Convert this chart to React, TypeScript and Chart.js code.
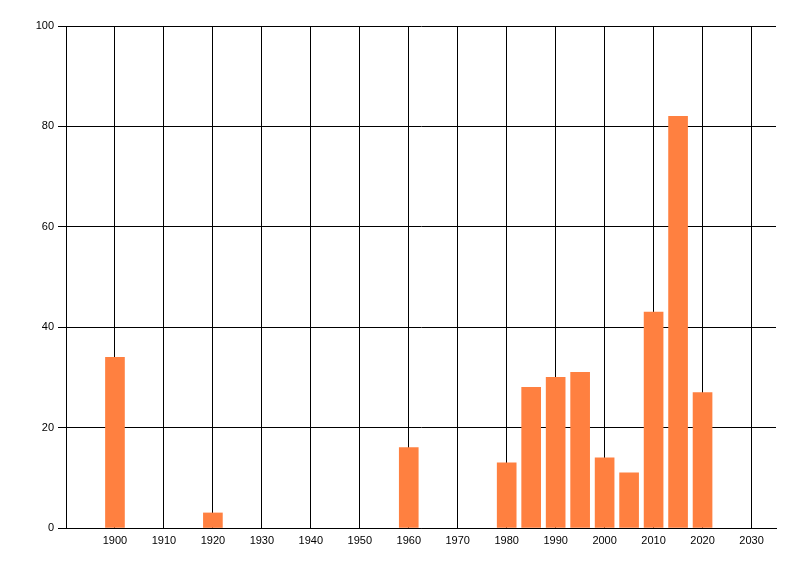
import React, { useEffect, useRef } from "react";
import { Chart, registerables } from "chart.js";

Chart.register(...registerables);

const years = [1900, 1920, 1960, 1980, 1985, 1990, 1995, 2000, 2005, 2010, 2015, 2020];
const values = [34, 3, 16, 13, 28, 30, 31, 14, 11, 43, 82, 27];
const xTickValues = [1900, 1910, 1920, 1930, 1940, 1950, 1960, 1970, 1980, 1990, 2000, 2010, 2020, 2030];
const yTickValues = [0, 20, 40, 60, 80, 100];

export default function App() {
  const ref = useRef<HTMLCanvasElement>(null);
  useEffect(() => {
    document.body.style.margin = "0";
    const ctx = ref.current!;
    const font = { family: "'Liberation Sans', Arial, sans-serif", size: 11 };
    const chart = new Chart(ctx, {
      type: "bar",
      data: {
        datasets: [
          {
            data: years.map((y, i) => ({ x: y, y: values[i] })),
            backgroundColor: "#FF8040",
            borderWidth: 0,
            barThickness: 19,
          },
        ],
      },
      options: {
        animation: false,
        responsive: false,
        maintainAspectRatio: false,
        devicePixelRatio: 1,
        layout: { padding: { top: 26, right: 24, left: 0, bottom: 0 } },
        plugins: { legend: { display: false }, tooltip: { enabled: false } },
        scales: {
          x: {
            type: "linear",
            min: 1890,
            max: 2035,
            offset: false,
            afterBuildTicks: (axis: any) => {
              axis.ticks = xTickValues.map((v) => ({ value: v }));
            },
            afterFit: (axis: any) => {
              axis.height = 48;
            },
            grid: { color: "#000", lineWidth: 1, drawTicks: false, offset: false },
            border: { color: "#000", width: 1 },
            ticks: {
              color: "#000",
              font,
              padding: 6,
              maxRotation: 0,
              autoSkip: false,
              callback: (v: any) => String(v),
            },
          },
          y: {
            min: 0,
            max: 100,
            afterBuildTicks: (axis: any) => {
              axis.ticks = yTickValues.map((v) => ({ value: v }));
            },
            afterFit: (axis: any) => {
              axis.width = 66;
            },
            grid: { color: "#000", lineWidth: 1, drawTicks: true, tickLength: 8 },
            border: { color: "#000", width: 1 },
            ticks: { color: "#000", font, padding: 4 },
          },
        },
      },
    });
    return () => chart.destroy();
  }, []);
  return (
    <div style={{ width: 800, height: 576, background: "#fff" }}>
      <canvas ref={ref} width={800} height={576} style={{ display: "block" }} />
    </div>
  );
}
